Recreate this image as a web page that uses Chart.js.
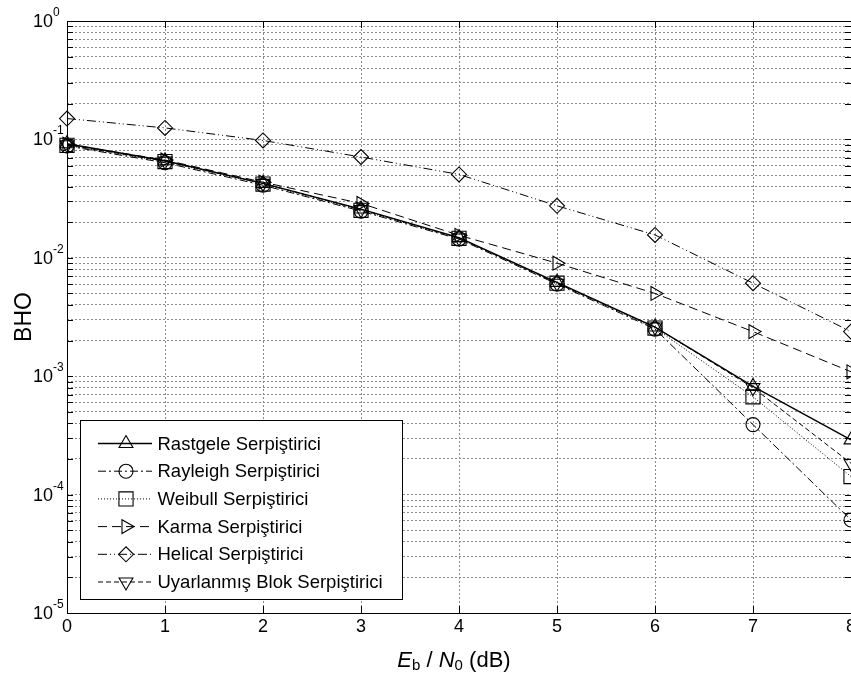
<!DOCTYPE html>
<html>
<head>
<meta charset="utf-8">
<script src="https://cdn.jsdelivr.net/npm/chart.js@4/dist/chart.umd.min.js"></script>
<style>
  html, body { margin: 0; padding: 0; background: #fff; overflow: hidden; }
  #wrap { width: 900px; height: 677px; }
</style>
</head>
<body>
<div id="wrap"><canvas id="graph" width="900" height="677"></canvas></div>
<script>
// Eb/N0 values (dB)
const ebno = [0, 1, 2, 3, 4, 5, 6, 7, 8];

// bit error rate per interleaver
const rastgele  = [0.092, 0.066, 0.0425, 0.0258, 0.0148, 0.0062, 0.0026, 0.00082, 0.00029];
const rayleigh  = [0.088, 0.0635, 0.041, 0.0248, 0.0144, 0.0060, 0.0025, 0.00039, 0.000061];
const weibull   = [0.089, 0.065, 0.042, 0.0252, 0.0146, 0.0061, 0.00255, 0.00067, 0.000142];
const karma     = [0.091, 0.067, 0.0435, 0.0288, 0.0155, 0.0090, 0.0050, 0.00238, 0.00109];
const helical   = [0.150, 0.125, 0.098, 0.071, 0.0506, 0.0275, 0.0156, 0.0061, 0.00238];
const uyarlanmis = [0.090, 0.0655, 0.0425, 0.0255, 0.0147, 0.0061, 0.0026, 0.00080, 0.000184];

const seriesNames = [
  'Rastgele Serpiştirici',
  'Rayleigh Serpiştirici',
  'Weibull Serpiştirici',
  'Karma Serpiştirici',
  'Helical Serpiştirici',
  'Uyarlanmış Blok Serpiştirici'
];

// axis ticks
const xTicks = [0, 1, 2, 3, 4, 5, 6, 7, 8];
const yExponents = [0, -1, -2, -3, -4, -5];

const FONT = '"Liberation Sans", Arial, sans-serif';

// line / marker look for each series
const looks = [
  { data: rastgele,   dash: [],               style: 'triangle', rot: 0,   r: 8,   w: 1.4 },
  { data: rayleigh,   dash: [8, 3, 2, 3],     style: 'circle',   rot: 0,   r: 7,   w: 1 },
  { data: weibull,    dash: [1, 2],           style: 'rect',     rot: 0,   r: 10,  w: 1 },
  { data: karma,      dash: [9, 5],           style: 'triangle', rot: 90,  r: 8,   w: 1 },
  { data: helical,    dash: [9, 3, 1, 3, 1, 3], style: 'rectRot', rot: 0,  r: 7.5, w: 1 },
  { data: uyarlanmis, dash: [5, 3],           style: 'triangle', rot: 180, r: 8,   w: 1 }
];

const datasets = looks.map((s, i) => ({
  label: seriesNames[i],
  data: ebno.map((x, j) => ({ x: x, y: s.data[j] })),
  borderColor: '#000',
  borderWidth: s.w,
  borderDash: s.dash,
  pointStyle: s.style,
  rotation: s.rot,
  pointRadius: s.r,
  pointBorderWidth: 1.1,
  pointBorderColor: '#000',
  pointBackgroundColor: 'rgba(0,0,0,0)',
  tension: 0,
  clip: false
}));

// box, inner ticks, tick labels, titles and legend
const decor = {
  id: 'decor',
  afterDraw(chart) {
    const ctx = chart.ctx;
    const a = chart.chartArea;
    const xs = chart.scales.x, ys = chart.scales.y;
    ctx.save();

    // inner tick marks
    ctx.strokeStyle = '#000';
    ctx.lineWidth = 1;
    ctx.setLineDash([]);
    ctx.beginPath();
    ys.ticks.forEach(t => {
      const y = Math.round(ys.getPixelForValue(t.value)) + 0.5;
      ctx.moveTo(a.left, y); ctx.lineTo(a.left + 6, y);
      ctx.moveTo(a.right, y); ctx.lineTo(a.right - 6, y);
    });
    xTicks.forEach(v => {
      const x = Math.round(xs.getPixelForValue(v)) + 0.5;
      ctx.moveTo(x, a.bottom); ctx.lineTo(x, a.bottom - 7);
      ctx.moveTo(x, a.top); ctx.lineTo(x, a.top + 7);
    });
    ctx.stroke();

    // plot frame
    ctx.strokeRect(Math.round(a.left) + 0.5, Math.round(a.top) + 0.5,
      Math.round(a.right - a.left), Math.round(a.bottom - a.top));

    ctx.fillStyle = '#000';

    // x tick labels
    ctx.font = '18px ' + FONT;
    ctx.textAlign = 'center';
    ctx.textBaseline = 'middle';
    xTicks.forEach(v => {
      ctx.fillText(String(v), xs.getPixelForValue(v), a.bottom + 14);
    });

    // y tick labels as 10 with superscript exponent
    yExponents.forEach(e => {
      const y = ys.getPixelForValue(Math.pow(10, e));
      ctx.font = '18px ' + FONT;
      ctx.textAlign = 'right';
      ctx.textBaseline = 'middle';
      ctx.fillText('10', 53, y + 1);
      ctx.font = '12px ' + FONT;
      ctx.textAlign = 'left';
      ctx.textBaseline = 'alphabetic';
      ctx.fillText(String(e), 53, y - 5);
    });

    // y title
    ctx.save();
    ctx.translate(25, 317);
    ctx.rotate(-Math.PI / 2);
    ctx.font = '23px ' + FONT;
    ctx.textAlign = 'center';
    ctx.textBaseline = 'middle';
    ctx.fillText('BHO', 0, 0);
    ctx.restore();

    // x title: E_b / N_0 (dB)
    const parts = [
      { t: 'E', f: 'italic 22px ' + FONT, dy: 0 },
      { t: 'b', f: '15px ' + FONT, dy: 3 },
      { t: ' / ', f: '22px ' + FONT, dy: 0 },
      { t: 'N', f: 'italic 22px ' + FONT, dy: 0 },
      { t: '0', f: '15px ' + FONT, dy: 3 },
      { t: ' (dB)', f: '22px ' + FONT, dy: 0 }
    ];
    let total = 0;
    parts.forEach(p => { ctx.font = p.f; p.w = ctx.measureText(p.t).width; total += p.w; });
    let px = 454 - total / 2;
    ctx.textAlign = 'left';
    ctx.textBaseline = 'alphabetic';
    parts.forEach(p => { ctx.font = p.f; ctx.fillText(p.t, px, 667 + p.dy); px += p.w; });

    // legend
    const lx = 80.5, ly = 420.5, lw = 322, lh = 179;
    ctx.fillStyle = '#fff';
    ctx.fillRect(lx, ly, lw, lh);
    ctx.strokeStyle = '#000';
    ctx.lineWidth = 1;
    ctx.strokeRect(lx, ly, lw, lh);
    chart.data.datasets.forEach((ds, i) => {
      const y = 443.5 + i * 27.7;
      ctx.strokeStyle = '#000';
      ctx.setLineDash(ds.borderDash);
      ctx.lineWidth = ds.borderWidth;
      ctx.beginPath();
      ctx.moveTo(98, y); ctx.lineTo(152, y);
      ctx.stroke();
      ctx.setLineDash([]);
      ctx.lineWidth = 1.1;
      ctx.fillStyle = 'rgba(0,0,0,0)';
      Chart.helpers.drawPoint(ctx, {
        pointStyle: ds.pointStyle,
        rotation: ds.rotation,
        radius: ds.pointRadius,
        borderWidth: 1.1
      }, 126, y);
      ctx.fillStyle = '#000';
      ctx.font = '18.5px ' + FONT;
      ctx.textAlign = 'left';
      ctx.textBaseline = 'middle';
      ctx.fillText(ds.label, 157.5, y + 1);
    });

    ctx.restore();
  }
};

const graph = new Chart(document.getElementById('graph').getContext('2d'), {
  type: 'line',
  data: { datasets: datasets },
  options: {
    responsive: false,
    animation: false,
    layout: { padding: { left: 0, top: 21, right: 49, bottom: 0 } },
    plugins: { legend: { display: false }, tooltip: { enabled: false } },
    scales: {
      x: {
        type: 'linear',
        min: 0,
        max: 8,
        afterBuildTicks: s => { s.ticks = xTicks.map(v => ({ value: v })); },
        afterFit: s => { s.height = 64; },
        ticks: { display: false },
        grid: { color: '#8a8a8a', lineWidth: 1, drawTicks: false },
        border: { display: false, dash: [2, 2] }
      },
      y: {
        type: 'logarithmic',
        min: 1e-5,
        max: 1,
        afterBuildTicks: s => {
          const t = [];
          yExponents.slice().reverse().forEach(e => {
            for (let m = 1; m <= 9; m++) {
              if (e === 0 && m > 1) break;
              t.push({ value: m * Math.pow(10, e) });
            }
          });
          s.ticks = t;
        },
        afterFit: s => { s.width = 67; },
        ticks: { display: false },
        grid: { color: '#8a8a8a', lineWidth: 1, drawTicks: false },
        border: { display: false, dash: [2, 2] }
      }
    }
  },
  plugins: [decor]
});
</script>
</body>
</html>
